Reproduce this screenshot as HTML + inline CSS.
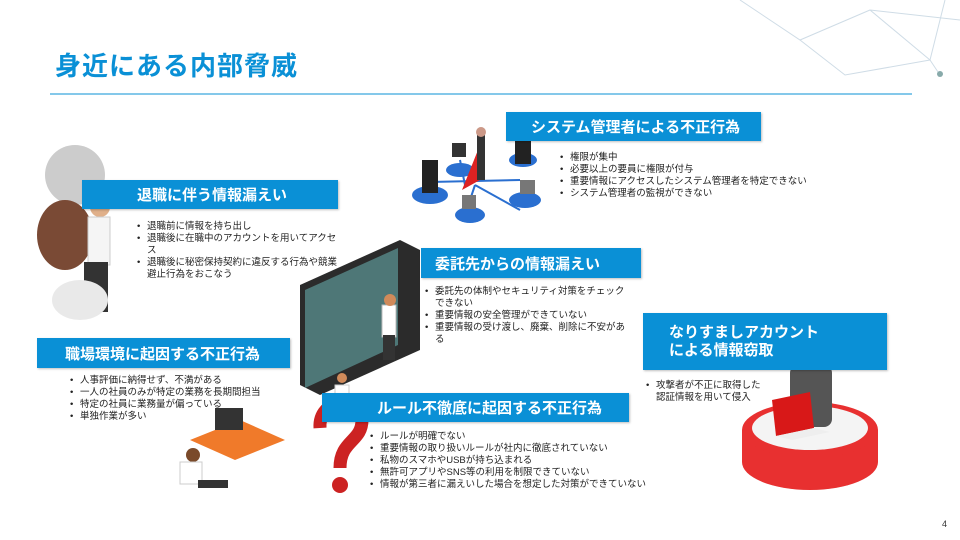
<!DOCTYPE html>
<html><head><meta charset="utf-8"><style>
body{margin:0;width:960px;height:540px;background:#fff;position:relative;overflow:hidden;font-family:"Liberation Sans","Noto Sans CJK JP",sans-serif}
.a{position:absolute}
.h{position:absolute;background:#0a90d6;color:#fff;font-weight:bold;font-size:15px;box-sizing:border-box;padding-left:14px;display:flex;align-items:center;box-shadow:1px 1px 2px rgba(0,0,0,.25)}
ul{position:absolute;margin:0;padding:0;list-style:none;font-size:9.5px;line-height:12px;color:#222}
li{padding-left:10px;position:relative}
li:before{content:"•";position:absolute;left:0}
</style></head><body>
<svg class="a" style="left:0;top:0" width="960" height="540">
<g stroke="#cfdce6" stroke-width="1" fill="none"><path d="M740 0 L800 40 L870 10 L930 60 L945 0 M800 40 L845 75 L930 60 M870 10 L960 20 M930 60 L940 75"/></g>
<circle cx="940" cy="74" r="3" fill="#8aa"/>
<line x1="50" y1="94" x2="912" y2="94" stroke="#0a90d6" stroke-width="1"/>
<!-- network illus -->
<g stroke="#2a6fd0" stroke-width="2"><line x1="430" y1="182" x2="520" y2="180"/><line x1="475" y1="185" x2="465" y2="215"/><line x1="475" y1="185" x2="520" y2="210"/><line x1="465" y1="185" x2="460" y2="160"/></g>
<ellipse cx="430" cy="195" rx="18" ry="9" fill="#2a6fd0"/><ellipse cx="470" cy="215" rx="15" ry="8" fill="#2a6fd0"/><ellipse cx="525" cy="200" rx="16" ry="8" fill="#2a6fd0"/><ellipse cx="460" cy="170" rx="14" ry="7" fill="#2a6fd0"/><ellipse cx="523" cy="160" rx="14" ry="7" fill="#2a6fd0"/>
<rect x="422" y="160" width="16" height="33" fill="#222"/><rect x="515" y="132" width="16" height="32" fill="#222"/><rect x="462" y="195" width="14" height="14" fill="#777"/><rect x="520" y="180" width="15" height="14" fill="#777"/><rect x="452" y="143" width="14" height="14" fill="#333"/>
<path d="M478 150 L462 190 L480 180Z" fill="#d22"/><rect x="477" y="135" width="8" height="45" fill="#333"/><circle cx="481" cy="132" r="5" fill="#c98"/>
<!-- retire person -->
<circle cx="75" cy="175" r="30" fill="#ccc"/><ellipse cx="65" cy="235" rx="28" ry="35" fill="#7a4a35"/><circle cx="100" cy="207" r="10" fill="#e0b08a"/><path d="M93 200a10 10 0 0 1 16 2z" fill="#7a4a2a"/><rect x="88" y="217" width="22" height="48" fill="#f5f5f5" stroke="#ccc"/><rect x="84" y="262" width="24" height="50" fill="#333"/><ellipse cx="80" cy="300" rx="28" ry="20" fill="#e9e9e9"/>
<!-- server racks -->
<path d="M300 285 L400 240 L420 250 L420 350 L320 395 L300 385Z" fill="#2b2b2b"/><path d="M305 290 L398 248 L398 345 L305 388Z" fill="#6aa" opacity=".6"/>
<rect x="382" y="305" width="14" height="32" fill="#fff" stroke="#bbb"/><circle cx="390" cy="300" r="6" fill="#d08a5a"/><rect x="383" y="335" width="12" height="25" fill="#333"/>
<!-- thief disc -->
<ellipse cx="810" cy="462" rx="68" ry="28" fill="#e2e2e2"/>
<rect x="742" y="430" width="136" height="32" fill="#e83030"/>
<ellipse cx="810" cy="462" rx="68" ry="28" fill="#d02828" opacity=".0"/>
<path d="M742 462 A68 28 0 0 0 878 462" fill="#e83030"/>
<ellipse cx="810" cy="430" rx="68" ry="28" fill="#e83030"/>
<ellipse cx="810" cy="428" rx="58" ry="22" fill="#f4f4f4"/>
<rect x="790" y="365" width="42" height="62" rx="8" fill="#555"/><circle cx="818" cy="350" r="15" fill="#8a5a2a"/><rect x="805" y="350" width="26" height="6" fill="#111"/>
<path d="M772 400 L810 392 L814 428 L776 436Z" fill="#d81818"/><path d="M776 436 L814 428 L830 432 L792 440Z" fill="#eee"/>
<!-- desk person -->
<path d="M190 440 L240 420 L285 440 L235 460Z" fill="#f07a2a"/><rect x="215" y="408" width="28" height="22" fill="#333"/><circle cx="193" cy="455" r="7" fill="#7a4a2a"/><rect x="180" y="462" width="22" height="22" fill="#fff" stroke="#ccc"/><rect x="198" y="480" width="30" height="8" fill="#333"/>
<!-- question mark -->
<path d="M320 428 C318 398 362 392 362 420 C362 442 340 440 340 468" stroke="#c22" stroke-width="13" fill="none"/><circle cx="340" cy="485" r="8" fill="#c22"/><rect x="335" y="385" width="14" height="20" fill="#fff" stroke="#ccc"/><circle cx="342" cy="378" r="5" fill="#d08a5a"/>
</svg>
<div class="a" style="left:55px;top:46px;font-size:26px;font-weight:bold;color:#0a90d6;letter-spacing:1px">身近にある内部脅威</div>
<div class="h" style="left:506px;top:112px;width:255px;height:29px;padding-left:25px">システム管理者による不正行為</div>
<ul style="left:560px;top:152px"><li>権限が集中</li><li>必要以上の要員に権限が付与</li><li>重要情報にアクセスしたシステム管理者を特定できない</li><li>システム管理者の監視ができない</li></ul>
<div class="h" style="left:82px;top:180px;width:256px;height:29px;padding-left:55px">退職に伴う情報漏えい</div>
<ul style="left:137px;top:221px;width:200px"><li>退職前に情報を持ち出し</li><li>退職後に在職中のアカウントを用いてアクセス</li><li>退職後に秘密保持契約に違反する行為や競業避止行為をおこなう</li></ul>
<div class="h" style="left:421px;top:248px;width:220px;height:30px">委託先からの情報漏えい</div>
<ul style="left:425px;top:286px;width:200px"><li>委託先の体制やセキュリティ対策をチェックできない</li><li>重要情報の安全管理ができていない</li><li>重要情報の受け渡し、廃棄、削除に不安がある</li></ul>
<div class="h" style="left:643px;top:313px;width:244px;height:57px;padding-left:26px;line-height:18px">なりすましアカウント<br>による情報窃取</div>
<ul style="left:646px;top:380px;width:120px"><li>攻撃者が不正に取得した認証情報を用いて侵入</li></ul>
<div class="h" style="left:37px;top:338px;width:253px;height:30px;padding-left:28px">職場環境に起因する不正行為</div>
<ul style="left:70px;top:375px"><li>人事評価に納得せず、不満がある</li><li>一人の社員のみが特定の業務を長期間担当</li><li>特定の社員に業務量が偏っている</li><li>単独作業が多い</li></ul>
<div class="h" style="left:322px;top:393px;width:307px;height:29px;padding-left:55px">ルール不徹底に起因する不正行為</div>
<ul style="left:370px;top:431px"><li>ルールが明確でない</li><li>重要情報の取り扱いルールが社内に徹底されていない</li><li>私物のスマホやUSBが持ち込まれる</li><li>無許可アプリやSNS等の利用を制限できていない</li><li>情報が第三者に漏えいした場合を想定した対策ができていない</li></ul>
<div class="a" style="left:942px;top:519px;font-size:9px;color:#333">4</div>
</body></html>
